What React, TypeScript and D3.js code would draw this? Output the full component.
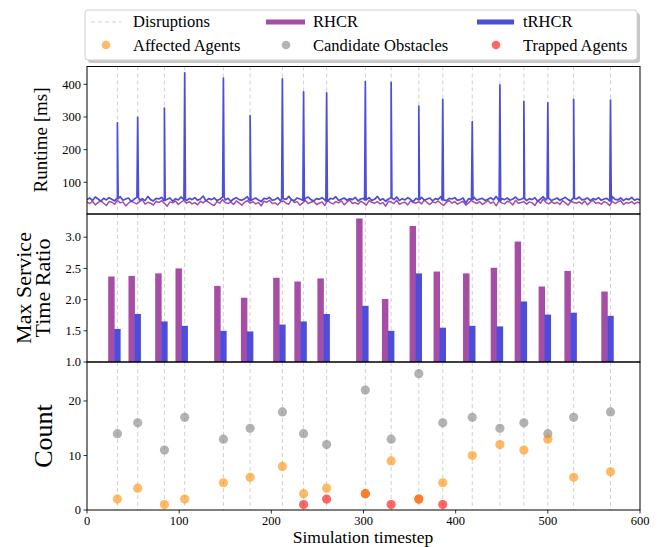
import React from 'react';
import * as d3 from 'd3';

// disruption timesteps and the per-disruption measurements
const disruptions = [33, 55, 84, 106, 148, 177, 212, 235, 260, 302, 330, 360, 386, 418, 448, 474, 500, 528, 568];
const trhcrPeaks = [282, 299, 327, 435, 419, 304, 417, 377, 374, 408, 406, 333, 354, 286, 398, 348, 343, 354, 352];
const rhcrRatio = [2.37, 2.38, 2.42, 2.5, 2.22, 2.03, 2.35, 2.29, 2.34, 3.3, 2.01, 3.18, 2.45, 2.42, 2.51, 2.93, 2.21, 2.46, 2.13];
const trhcrRatio = [1.53, 1.77, 1.65, 1.58, 1.5, 1.49, 1.6, 1.65, 1.77, 1.9, 1.5, 2.42, 1.55, 1.58, 1.57, 1.97, 1.76, 1.79, 1.74];
const candidateObstacles = [14, 16, 11, 17, 13, 15, 18, 14, 12, 22, 13, 25, 16, 17, 15, 16, 14, 17, 18];
const affectedAgents = [2, 4, 1, 2, 5, 6, 8, 3, 4, 3, 9, 2, 5, 10, 12, 11, 13, 6, 7];
const trappedAgents = [0, 0, 0, 0, 0, 0, 0, 1, 2, 3, 1, 2, 1, 0, 0, 0, 0, 0, 0];

// baseline runtime [ms], sampled every 3 timesteps over 0..600
const rhcrRuntime = [
  40, 35, 42, 31, 38, 44, 36, 29, 41, 39, 33, 45, 37, 40, 28, 36, 43, 38, 34, 41,
  46, 33, 39, 36, 30, 42, 38, 44, 35, 27, 40, 37, 43, 32, 39, 45, 36, 41, 34, 38,
  31, 42, 37, 44, 39, 33, 29, 41, 36, 47, 38, 35, 40, 32, 43, 37, 30, 39, 44, 36,
  41, 34, 38, 28, 42, 39, 45, 35, 37, 31, 40, 43, 36, 33, 48, 38, 41, 30, 37, 44,
  35, 39, 42, 32, 36, 40, 29, 45, 38, 34, 41, 37, 43, 31, 39, 46, 35, 38, 33, 42,
  37, 30, 44, 39, 36, 41, 34, 38, 27, 42, 40, 35, 45, 33, 37, 39, 31, 43, 38, 36,
  41, 34, 46, 38, 32, 40, 37, 43, 35, 29, 39, 44, 36, 41, 33, 38, 42, 30, 37, 45,
  39, 35, 41, 32, 38, 44, 36, 40, 28, 43, 37, 34, 42, 39, 31, 45, 36, 38, 41, 33,
  40, 37, 29, 43, 36, 49, 38, 34, 41, 35, 39, 32, 44, 37, 30, 42, 38, 36, 40, 34,
  43, 31, 39, 45, 36, 38, 33, 41, 37, 29, 42, 35, 40, 44, 32, 38, 36, 41, 34, 39,
  37,
];
const trhcrRuntime = [
  47, 52, 44, 55, 49, 42, 51, 46, 53, 48, 43, 50, 56, 45, 49, 52, 41, 48, 54, 46,
  50, 44, 57, 47, 43, 51, 49, 54, 45, 48, 52, 42, 50, 46, 55, 48, 44, 51, 47, 53,
  45, 49, 58, 43, 50, 47, 52, 44, 48, 55, 46, 51, 42, 49, 53, 47, 45, 50, 56, 44,
  48, 52, 46, 41, 51, 49, 54, 45, 47, 53, 43, 50, 48, 57, 46, 44, 52, 49, 45, 51,
  55, 47, 43, 50, 48, 53, 46, 42, 51, 49, 56, 44, 48, 52, 45, 50, 47, 54, 43, 49,
  51, 46, 53, 44, 48, 57, 45, 50, 42, 49, 52, 47, 55, 44, 50, 46, 53, 48, 41, 51,
  47, 54, 45, 49, 52, 43, 50, 48, 56, 46, 44, 51, 49, 53, 45, 47, 52, 36, 50, 48,
  54, 45, 49, 51, 44, 48, 53, 46, 57, 43, 50, 47, 52, 45, 49, 55, 46, 48, 51, 44,
  50, 47, 53, 42, 49, 56, 46, 51, 44, 48, 52, 45, 50, 54, 47, 43, 51, 49, 55, 46,
  48, 52, 44, 50, 47, 53, 45, 49, 51, 43, 56, 48, 46, 52, 44, 50, 47, 54, 45, 49,
  46,
];

const xTicks = [0, 100, 200, 300, 400, 500, 600];
const runtimeTicks = [100, 200, 300, 400];
const ratioTicks = [1.0, 1.5, 2.0, 2.5, 3.0];
const countTicks = [0, 10, 20];

const PURPLE = '#a64da6';
const BLUE = '#4d4ddc';
const FONT = '"Liberation Serif", "DejaVu Serif", serif';

const W = 664;
const H = 547;
const L = 87;
const R = 640;
const panels = [
  { top: 66.5, bottom: 214 },
  { top: 214, bottom: 362 },
  { top: 362, bottom: 510 },
];

const x = d3.scaleLinear().domain([0, 600]).range([L, R]);
const yRun = d3.scaleLinear().domain([3, 454.5]).range([panels[0].bottom, panels[0].top]);
const yRatio = d3.scaleLinear().domain([1, 3.372]).range([panels[1].bottom, panels[1].top]);
const yCount = d3.scaleLinear().domain([0, 27.15]).range([panels[2].bottom, panels[2].top]);

const toSeries = (vals: number[]) => {
  const step = 600 / (vals.length - 1);
  return vals.map((v, i) => ({ t: i * step, v }));
};

const rhcrSeries = toSeries(rhcrRuntime);
const trhcrSeries = (() => {
  const step = 600 / (trhcrRuntime.length - 1);
  const pts = toSeries(trhcrRuntime);
  disruptions.forEach((t, i) => {
    const near = trhcrRuntime[Math.round(t / step)];
    pts.push({ t: t - 0.8, v: near }, { t, v: trhcrPeaks[i] }, { t: t + 0.8, v: near });
  });
  return pts.sort((a, b) => a.t - b.t);
})();

const line = d3.line<{ t: number; v: number }>()
  .x(d => x(d.t))
  .y(d => yRun(d.v));

const YAxis = ({ scale, ticks, fmt }: { scale: d3.ScaleLinear<number, number>; ticks: number[]; fmt: (v: number) => string }) => (
  <g>
    {ticks.map(t => (
      <g key={t} transform={`translate(${L},${scale(t)})`}>
        <line x1={-3.5} x2={0} stroke="#000" strokeWidth={0.8} />
        <text x={-6} dy="0.34em" textAnchor="end" fontSize={12.5} fontFamily={FONT}>{fmt(t)}</text>
      </g>
    ))}
  </g>
);

export default function App() {
  const barW = 7;
  return (
    <svg width={W} height={H} style={{ position: 'absolute', left: 0, top: 0, background: '#fff' }}>
      <defs>
        <clipPath id="clip-top">
          <rect x={L} y={panels[0].top} width={R - L} height={panels[0].bottom - panels[0].top} />
        </clipPath>
      </defs>

      {/* disruption markers in every panel */}
      {panels.map((p, pi) => (
        <g key={pi}>
          {disruptions.map(t => (
            <line key={t} x1={x(t)} x2={x(t)} y1={p.top} y2={p.bottom}
              stroke="#d2d2d2" strokeWidth={1} strokeDasharray="4,3" />
          ))}
        </g>
      ))}

      {/* runtime */}
      <g clipPath="url(#clip-top)">
        <path d={line(rhcrSeries) ?? ''} fill="none" stroke={PURPLE} strokeWidth={1.5} strokeLinejoin="round" />
        <path d={line(trhcrSeries) ?? ''} fill="none" stroke={BLUE} strokeWidth={1.7} strokeLinejoin="round" />
      </g>

      {/* max service time ratio */}
      <g>
        {disruptions.map((t, i) => (
          <rect key={'p' + t} x={x(t - 10)} width={x(barW) - x(0)} y={yRatio(rhcrRatio[i])}
            height={yRatio(1) - yRatio(rhcrRatio[i])} fill={PURPLE} />
        ))}
        {disruptions.map((t, i) => (
          <rect key={'b' + t} x={x(t - 3.5)} width={x(barW) - x(0)} y={yRatio(trhcrRatio[i])}
            height={yRatio(1) - yRatio(trhcrRatio[i])} fill={BLUE} />
        ))}
      </g>

      {/* counts */}
      <g>
        {disruptions.map((t, i) => (
          <circle key={'c' + t} cx={x(t)} cy={yCount(candidateObstacles[i])} r={4.6} fill="#808080" fillOpacity={0.6} />
        ))}
        {disruptions.map((t, i) => trappedAgents[i] > 0 ? (
          <circle key={'r' + t} cx={x(t)} cy={yCount(trappedAgents[i])} r={4.6} fill="#ff0000" fillOpacity={0.6} />
        ) : null)}
        {disruptions.map((t, i) => (
          <circle key={'o' + t} cx={x(t)} cy={yCount(affectedAgents[i])} r={4.6} fill="#ff8c00" fillOpacity={0.6} />
        ))}
      </g>

      {/* frames */}
      {panels.map((p, pi) => (
        <rect key={pi} x={L} y={p.top} width={R - L} height={p.bottom - p.top} fill="none" stroke="#000" strokeWidth={1} />
      ))}

      <YAxis scale={yRun} ticks={runtimeTicks} fmt={d3.format('d')} />
      <YAxis scale={yRatio} ticks={ratioTicks} fmt={d3.format('.1f')} />
      <YAxis scale={yCount} ticks={countTicks} fmt={d3.format('d')} />

      <g>
        {xTicks.map(t => (
          <g key={t} transform={`translate(${x(t)},${panels[2].bottom})`}>
            <line y1={0} y2={3.5} stroke="#000" strokeWidth={0.8} />
            <text y={15} textAnchor="middle" fontSize={12.5} fontFamily={FONT}>{t}</text>
          </g>
        ))}
      </g>

      {/* axis titles */}
      <text transform="translate(47,140) rotate(-90)" textAnchor="middle" fontSize={19} fontFamily={FONT}>Runtime [ms]</text>
      <text transform="translate(31,288) rotate(-90)" textAnchor="middle" fontSize={22} fontFamily={FONT}>Max Service</text>
      <text transform="translate(50,288) rotate(-90)" textAnchor="middle" fontSize={22} fontFamily={FONT}>Time Ratio</text>
      <text transform="translate(52,436) rotate(-90)" textAnchor="middle" fontSize={26} fontFamily={FONT}>Count</text>
      <text x={363} y={543} textAnchor="middle" fontSize={17.5} fontFamily={FONT}>Simulation timestep</text>

      {/* legend */}
      <g fontFamily={FONT} fontSize={16.5}>
        <rect x={88} y={13} width={552} height={50} rx={3} fill="#999" fillOpacity={0.55} />
        <rect x={85} y={10} width={552} height={50} rx={3} fill="#fff" stroke="#cfcfcf" strokeWidth={1} />
        <line x1={91} x2={121} y1={22} y2={22} stroke="#d2d2d2" strokeWidth={1.2} strokeDasharray="4,3" />
        <text x={133} y={27}>Disruptions</text>
        <rect x={266} y={19.5} width={39} height={5} fill={PURPLE} />
        <text x={313} y={27}>RHCR</text>
        <rect x={477} y={19.5} width={37} height={5} fill={BLUE} />
        <text x={523} y={27}>tRHCR</text>
        <circle cx={106} cy={45} r={4.3} fill="#ff8c00" fillOpacity={0.6} />
        <text x={133} y={51}>Affected Agents</text>
        <circle cx={286} cy={45} r={4.3} fill="#808080" fillOpacity={0.6} />
        <text x={313} y={51}>Candidate Obstacles</text>
        <circle cx={496} cy={45} r={4.3} fill="#ff0000" fillOpacity={0.6} />
        <text x={523} y={51}>Trapped Agents</text>
      </g>
    </svg>
  );
}
